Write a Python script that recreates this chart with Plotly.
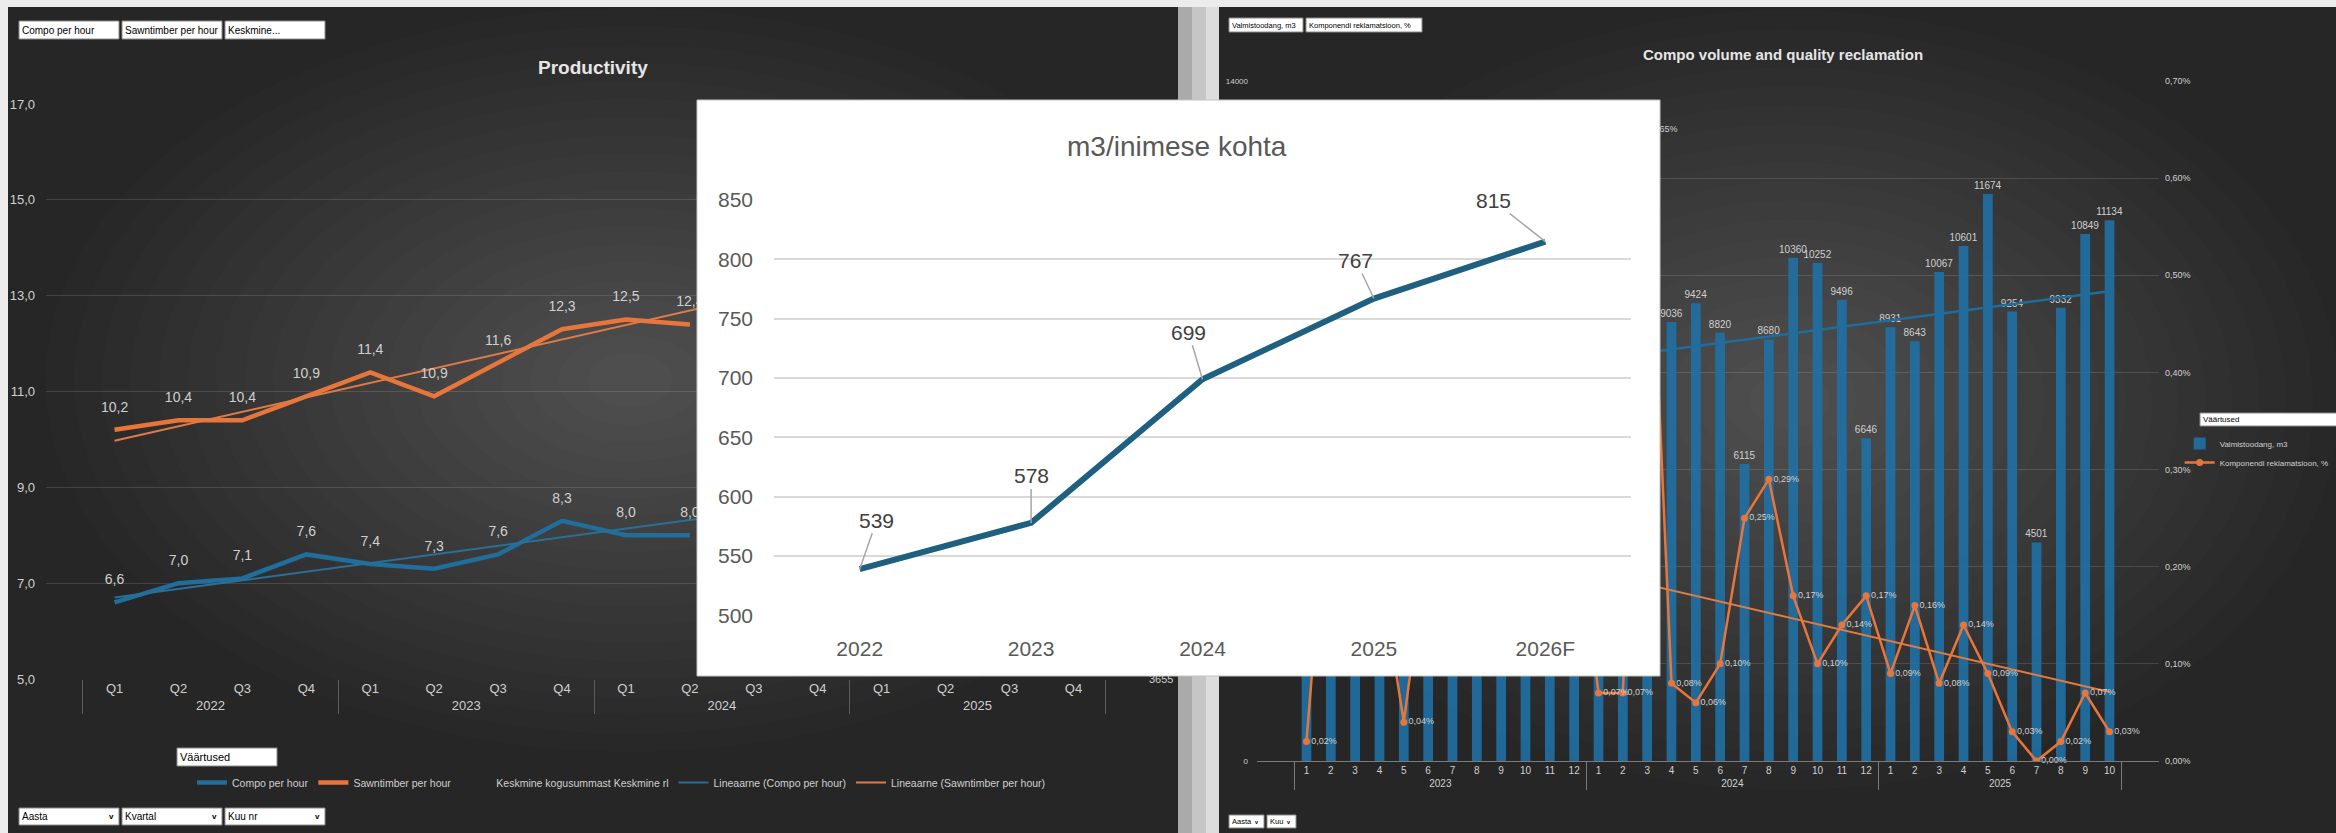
import plotly.graph_objects as go

W, H = 2336, 833


def X(px):
    return px / W


def Y(py):
    return 1 - py / H


# ---------------- data ----------------
# Left dashboard: Productivity (quarterly); quarters hidden behind the card are unknown (None)
prod_years = ["2022"] * 4 + ["2023"] * 4 + ["2024"] * 4 + ["2025"] * 4
prod_quarters = ["Q1", "Q2", "Q3", "Q4"] * 4
compo_per_hour = [6.6, 7.0, 7.1, 7.6, 7.4, 7.3, 7.6, 8.3, 8.0, 8.0, None, None, None, None, None, None]
sawn_per_hour = [10.2, 10.4, 10.4, 10.9, 11.4, 10.9, 11.6, 12.3, 12.5, 12.4, None, None, None, None, None, None]
compo_trend_ends = [6.7, 9.4]
sawn_trend_ends = [9.97, 14.5]
prod_ticks = [5, 7, 9, 11, 13, 15, 17]
avg_axis_ticks = [3655, 4155]

# Right dashboard: Compo volume and quality reclamation (monthly)
vol_years = ["2023"] * 12 + ["2024"] * 12 + ["2025"] * 10
vol_months = [str(m) for m in range(1, 13)] * 2 + [str(m) for m in range(1, 11)]
volume_m3 = [7850, 8120, 8460, 7310, 7960, 8210, 5400, 7720, 8640, 8380, 8050, 6200,
             7900, 8350, 8800, 9036, 9424, 8820, 6115, 8680, 10360, 10252, 9496, 6646,
             8931, 8643, 10067, 10601, 11674, 9254, 4501, 9332, 10849, 11134]
reclamation_pct = [0.02, 0.33, 0.21, 0.20, 0.04, 0.23, 0.31, 0.18, 0.26, 0.35, 0.22, 0.28,
                   0.07, 0.07, 0.65, 0.08, 0.06, 0.10, 0.25, 0.29, 0.17, 0.10, 0.14, 0.17,
                   0.09, 0.16, 0.08, 0.14, 0.09, 0.03, 0.00, 0.02, 0.07, 0.03]
volume_trend_ends = [7480, 9670]
pct_trend_ends = [0.263, 0.071]
vol_ticks = [0, 2000, 4000, 6000, 8000, 10000, 12000, 14000]
pct_ticks = [0.0, 0.1, 0.2, 0.3, 0.4, 0.5, 0.6, 0.7]

# Overlay chart: m3 per person
pp_years = ["2022", "2023", "2024", "2025", "2026F"]
m3_per_person = [539, 578, 699, 767, 815]
pp_ticks = [500, 550, 600, 650, 700, 750, 800, 850]

# ---------------- style ----------------
COND = "Liberation Sans, Arial, Helvetica, sans-serif"
ARIAL = "Liberation Sans, Arial, Helvetica, sans-serif"
BLUE = "#1f6e9b"
BLUE_T = "#2a6f96"
ORANGE = "#e8763a"
ORANGE_T = "#e07b46"
BAR = "rgba(32,112,165,0.9)"
TEAL = "#1f5f80"
LABEL = "#d0d0d0"


def pct_text(v):
    return ("%.2f%%" % v).replace(".", ",")


fig = go.Figure()

# ---- left chart ----
xL = [prod_years, prod_quarters]
xLT = [[prod_years[0], prod_years[-1]], [prod_quarters[0], prod_quarters[-1]]]
fig.add_trace(go.Scatter(x=xL, y=compo_per_hour, name="Compo per hour", mode="lines",
                         line=dict(color=BLUE, width=4.5), xaxis="x", yaxis="y", legend="legend"))
fig.add_trace(go.Scatter(x=xL, y=sawn_per_hour, name="Sawntimber per hour", mode="lines",
                         line=dict(color=ORANGE, width=4.5), xaxis="x", yaxis="y", legend="legend"))
fig.add_trace(go.Scatter(x=xL, y=[None] * len(prod_quarters), name="Keskmine kogusummast Keskmine rl",
                         mode="lines", line=dict(color="rgba(0,0,0,0)", width=2),
                         xaxis="x", yaxis="y2", legend="legend"))
fig.add_trace(go.Scatter(x=xLT, y=compo_trend_ends, name="Lineaarne (Compo per hour)", mode="lines",
                         line=dict(color=BLUE_T, width=2), xaxis="x", yaxis="y", legend="legend"))
fig.add_trace(go.Scatter(x=xLT, y=sawn_trend_ends, name="Lineaarne (Sawntimber per hour)", mode="lines",
                         line=dict(color=ORANGE_T, width=2), xaxis="x", yaxis="y", legend="legend"))
for vals in (compo_per_hour, sawn_per_hour):
    fig.add_trace(go.Scatter(x=xL, y=vals, mode="markers+text", marker=dict(size=22, opacity=0),
                             texttemplate="%{y:.1f}", textposition="top center",
                             textfont=dict(family=COND, size=14, color=LABEL), cliponaxis=False,
                             showlegend=False, hoverinfo="skip", xaxis="x", yaxis="y"))

# ---- right chart ----
xR = [vol_years, vol_months]
xRT = [[vol_years[0], vol_years[-1]], [vol_months[0], vol_months[-1]]]
fig.add_trace(go.Bar(x=xR, y=volume_m3, name="Valmistoodang, m3", marker=dict(color=BAR, line=dict(width=0)),
                     texttemplate="%{y:d}", textposition="outside", textangle=0, constraintext="none",
                     textfont=dict(family=COND, size=10, color=LABEL), cliponaxis=False,
                     xaxis="x2", yaxis="y3", legend="legend2"))
fig.add_trace(go.Scatter(x=xRT, y=volume_trend_ends, mode="lines", line=dict(color="#1f6d9c", width=2.5),
                         showlegend=False, hoverinfo="skip", xaxis="x2", yaxis="y3"))
fig.add_trace(go.Scatter(x=xR, y=reclamation_pct, name="Komponendi reklamatsioon, %", mode="lines+markers",
                         line=dict(color=ORANGE, width=2.5), marker=dict(size=7, color=ORANGE),
                         xaxis="x2", yaxis="y4", legend="legend2"))
fig.add_trace(go.Scatter(x=xRT, y=pct_trend_ends, mode="lines", line=dict(color=ORANGE_T, width=2),
                         showlegend=False, hoverinfo="skip", xaxis="x2", yaxis="y4"))
fig.add_trace(go.Scatter(x=xR, y=reclamation_pct, mode="markers+text", marker=dict(size=6, opacity=0),
                         text=[pct_text(v) for v in reclamation_pct], textposition="middle right",
                         textfont=dict(family=COND, size=9, color=LABEL), cliponaxis=False,
                         showlegend=False, hoverinfo="skip", xaxis="x2", yaxis="y4"))

# ---- white card (covers what lies under it) ----
fig.add_trace(go.Scatter(x=[None], y=[None], showlegend=False, hoverinfo="skip", xaxis="x3", yaxis="y5"))

# ---- overlay chart ----
fig.add_trace(go.Scatter(x=pp_years, y=m3_per_person, mode="lines", line=dict(color=TEAL, width=6),
                         showlegend=False, hoverinfo="skip", xaxis="x4", yaxis="y6"))

# ---------------- shapes ----------------
shapes = []


def rect(x0, y0, x1, y1, fill, line=None, lw=0, layer="below"):
    shapes.append(dict(type="rect", xref="paper", yref="paper", x0=X(x0), x1=X(x1), y0=Y(y1), y1=Y(y0),
                       fillcolor=fill, line=dict(color=line or "rgba(0,0,0,0)", width=lw), layer=layer))


rect(8, 7, 1178, 833, "#262626")
rect(1219, 7, 2336, 833, "#262626")
rect(1178, 7, 1192, 833, "#aaaaaa")
rect(1192, 7, 1206, 833, "#c6c6c6")
rect(1206, 7, 1219, 833, "#dddddd")

STEPS = 20
for cx, cy, rx, ry in ((630, 380, 585, 372), (1790, 400, 550, 390)):
    for k in range(STEPS):
        f = 1 - k / (STEPS + 0.5)
        shapes.append(dict(type="circle", xref="paper", yref="paper",
                           x0=X(cx - rx * f), x1=X(cx + rx * f), y0=Y(cy + ry * f), y1=Y(cy - ry * f),
                           fillcolor="rgba(255,255,255,0.011)", line=dict(width=0), layer="below"))

# card border
rect(697, 100, 1660, 676, "rgba(0,0,0,0)", line="#c4c4c4", lw=1, layer="above")

annotations = []


def text(px, py, s, size, color="#000000", family=COND, xanchor="left", bold=False):
    annotations.append(dict(x=X(px), y=Y(py), xref="paper", yref="paper", text=("<b>%s</b>" % s) if bold else s,
                            showarrow=False, xanchor=xanchor, yanchor="middle",
                            font=dict(family=family, size=size, color=color)))


def box(x0, y0, x1, y1, s, size, arrow=False):
    rect(x0, y0, x1, y1, "#ffffff", line="#8a8a8a", lw=1, layer="above")
    text(x0 + 1, (y0 + y1) / 2, s, size)
    if arrow:
        text(x1 - 3, (y0 + y1) / 2, "v", size - 2, xanchor="right", bold=True)


# left widgets
box(19, 21, 119, 39, "Compo per hour", 10)
box(122, 21, 222, 39, "Sawntimber per hour", 10)
box(225, 21, 325, 39, "Keskmine...", 10)
box(177, 748, 277, 766, "Väärtused", 11)
box(19, 808, 119, 825, "Aasta", 10, arrow=True)
box(122, 808, 222, 825, "Kvartal", 10, arrow=True)
box(225, 808, 325, 825, "Kuu nr", 10, arrow=True)
# right widgets
box(1229, 18, 1303, 32, "Valmistoodang, m3", 7.5)
box(1306, 18, 1422, 32, "Komponendi reklamatsioon, %", 7.5)
box(2200, 413, 2340, 426, "Väärtused", 8)
box(1229, 815, 1264, 828, "Aasta", 7.5, arrow=True)
box(1267, 815, 1296, 828, "Kuu", 7.5, arrow=True)

# titles
text(593, 68, "Productivity", 19, color="#e6e6e6", xanchor="center", bold=True)
text(1783, 54, "Compo volume and quality reclamation", 15, color="#e6e6e6", xanchor="center", bold=True)
text(1177, 146, "m3/inimese kohta", 28, color="#595959", family=ARIAL, xanchor="center")

# overlay data labels with leader lines (x given as category index)
label_offsets = [(17, -49), (0, -47), (-14, -47), (-18, -38), (-52, -41)]
for i, (val, (ax, ay)) in enumerate(zip(m3_per_person, label_offsets)):
    annotations.append(dict(x=i, y=val, xref="x4", yref="y6", text=str(val), showarrow=True,
                            arrowhead=0, arrowwidth=1.5, arrowcolor="#a6a6a6", standoff=0,
                            ax=ax, ay=ay, font=dict(family=ARIAL, size=21, color="#404040")))

tick_l = dict(family=COND, size=13, color=LABEL)
tick_r = dict(family=COND, size=10, color=LABEL)
grid = "rgba(255,255,255,0.13)"

fig.update_layout(
    width=W, height=H, autosize=False, margin=dict(l=0, r=0, t=0, b=0, pad=0, autoexpand=False),
    paper_bgcolor="#ececec", plot_bgcolor="#ffffff", separators=", ",
    hovermode=False, bargap=0.6, showlegend=True,
    shapes=shapes, annotations=annotations,
    xaxis=dict(domain=[X(46), X(1142)], anchor="y", type="multicategory", showgrid=False, zeroline=False,
               showline=False, ticks="", tickfont=tick_l, showdividers=True, dividercolor="#5c5c5c",
               dividerwidth=1, automargin=False),
    yaxis=dict(domain=[Y(679), Y(104)], anchor="x", range=[5, 17], tickmode="array", tickvals=prod_ticks,
               tickformat=".1f", showgrid=True, gridcolor=grid, zeroline=False, showline=False,
               tickfont=tick_l, ticklabelstandoff=10, automargin=False),
    yaxis2=dict(overlaying="y", anchor="x", side="right", range=[3655, 4155], tickmode="array",
                tickvals=avg_axis_ticks, tickformat="d", showgrid=False, zeroline=False,
                tickfont=dict(family=COND, size=11, color=LABEL), ticklabelstandoff=6, automargin=False),
    xaxis2=dict(domain=[X(1257), X(2159)], anchor="y3", type="multicategory", showgrid=False, zeroline=False,
                showline=True, linecolor="#7a7a7a", linewidth=1, ticks="", tickfont=tick_r,
                showdividers=True, dividercolor="#7a7a7a", dividerwidth=1, automargin=False),
    yaxis3=dict(domain=[Y(761), Y(81)], anchor="x2", range=[0, 14000], tickmode="array", tickvals=vol_ticks,
                tickformat="d", showgrid=True, gridcolor=grid, zeroline=False, showline=False,
                tickfont=dict(family=COND, size=8, color=LABEL), ticklabelstandoff=8, automargin=False),
    yaxis4=dict(overlaying="y3", anchor="x2", side="right", range=[0, 0.7], tickmode="array",
                tickvals=pct_ticks, ticktext=[pct_text(v) for v in pct_ticks], showgrid=False, zeroline=False,
                tickfont=dict(family=COND, size=9, color=LABEL), ticklabelstandoff=5, automargin=False),
    xaxis3=dict(domain=[X(697), X(1660)], anchor="y5", range=[0, 1], visible=False),
    yaxis5=dict(domain=[Y(676), Y(100)], anchor="x3", range=[0, 1], visible=False),
    xaxis4=dict(domain=[X(774), X(1631)], anchor="y6", type="category", range=[-0.5, len(pp_years) - 0.5],
                showgrid=False, zeroline=False, showline=False, ticks="",
                tickfont=dict(family=ARIAL, size=21, color="#595959"), ticklabelstandoff=18, automargin=False),
    yaxis6=dict(domain=[Y(615.5), Y(200)], anchor="x4", range=[500, 850], tickmode="array", tickvals=pp_ticks,
                showgrid=True, gridcolor="#d9d9d9", gridwidth=2, zeroline=False, showline=False,
                tickfont=dict(family=ARIAL, size=21, color="#595959"), ticklabelstandoff=20, automargin=False),
    legend=dict(orientation="h", x=X(192), y=Y(768), xanchor="left", yanchor="top",
                font=dict(family=COND, size=10.5, color=LABEL), bgcolor="rgba(0,0,0,0)", itemwidth=30),
    legend2=dict(orientation="v", x=0.999, y=Y(429), xanchor="right", yanchor="top",
                 font=dict(family=COND, size=8, color=LABEL), bgcolor="rgba(0,0,0,0)", itemwidth=30,
                 tracegroupgap=0),
)

fig.write_html("out.html", config={"displayModeBar": False},
               post_script="document.body.style.margin='0';document.body.style.overflow='hidden';")
